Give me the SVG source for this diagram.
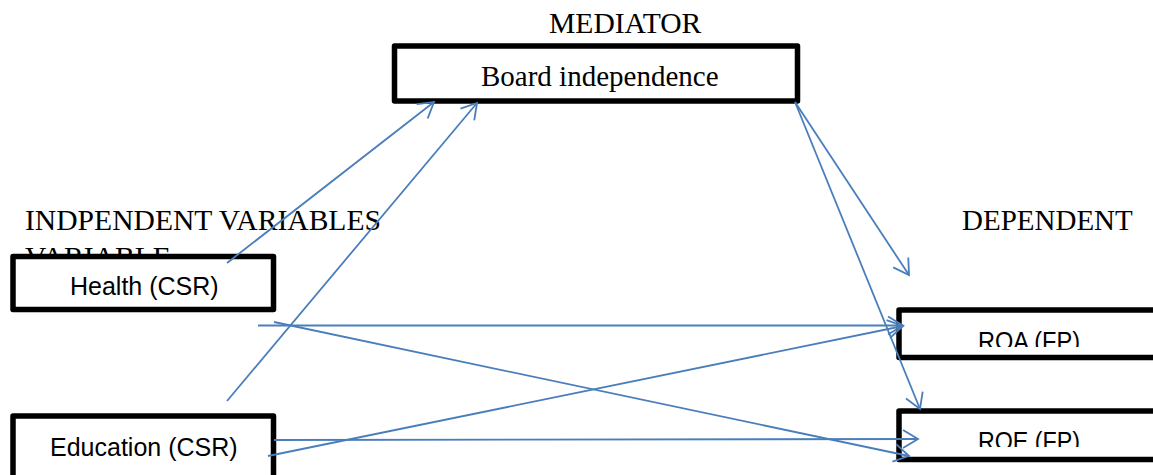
<svg xmlns="http://www.w3.org/2000/svg" width="1153" height="475" viewBox="0 0 1153 475">
<style>
.lbl{font-family:"Liberation Serif","Times New Roman",serif;font-size:29px;fill:#000}
.big{font-size:29.6px}
.box{fill:#fff;stroke:#000;stroke-width:5.5;stroke-linejoin:round}
.sans{font-family:"Liberation Sans",Arial,sans-serif;font-size:25px;fill:#000}
.con{fill:none;stroke:#4A7EBB;stroke-width:1.8;marker-end:url(#arr)}
</style>
<defs>
<marker id="arr" viewBox="0 0 18 20" refX="16" refY="10" markerWidth="18" markerHeight="20" markerUnits="userSpaceOnUse" orient="auto">
<path d="M1,1 L16,10 L1,19" fill="none" stroke="#4A7EBB" stroke-width="1.8"/>
</marker>
<clipPath id="clipROA"><rect x="900" y="300" width="253" height="47"/></clipPath>
<clipPath id="clipROE"><rect x="900" y="400" width="253" height="47"/></clipPath>
</defs>
<g id="labels">
<text class="lbl big" x="549" y="33">MEDIATOR</text>
<text class="lbl big" x="25" y="230">INDPENDENT VARIABLES</text>
<text class="lbl big" x="25" y="267">VARIABLE</text>
<text class="lbl" x="962" y="230">DEPENDENT</text>
</g>
<g id="board">
<rect class="box" x="394.5" y="46" width="403" height="55"/>
<text class="lbl" x="481" y="86">Board independence</text>
</g>
<g id="health">
<rect class="box" x="13" y="256.5" width="260.5" height="53"/>
<text class="sans" x="70" y="295">Health (CSR)</text>
</g>
<g id="education">
<rect class="box" x="13" y="416" width="260.5" height="80"/>
<text class="sans" x="50" y="456">Education (CSR)</text>
</g>
<g id="roa">
<rect class="box" x="899" y="310" width="300" height="47.5"/>
<text class="sans" x="978" y="350" textLength="102" lengthAdjust="spacingAndGlyphs" clip-path="url(#clipROA)">ROA (FP)</text>
</g>
<g id="roe">
<rect class="box" x="899" y="411" width="300" height="48.5"/>
<text class="sans" x="978" y="450" textLength="102" lengthAdjust="spacingAndGlyphs" clip-path="url(#clipROE)">ROE (FP)</text>
</g>
<g id="connectors">
<line class="con" x1="227" y1="263" x2="434" y2="102"/>
<line class="con" x1="227" y1="401" x2="477" y2="103"/>
<line class="con" x1="795" y1="102" x2="909" y2="275"/>
<line class="con" x1="795" y1="102" x2="920" y2="409"/>
<line class="con" x1="258" y1="325.5" x2="903" y2="325.5"/>
<line class="con" x1="274" y1="322" x2="909" y2="456"/>
<line class="con" x1="268" y1="456" x2="903" y2="326"/>
<line class="con" x1="274" y1="440" x2="918" y2="439"/>
</g>
</svg>
